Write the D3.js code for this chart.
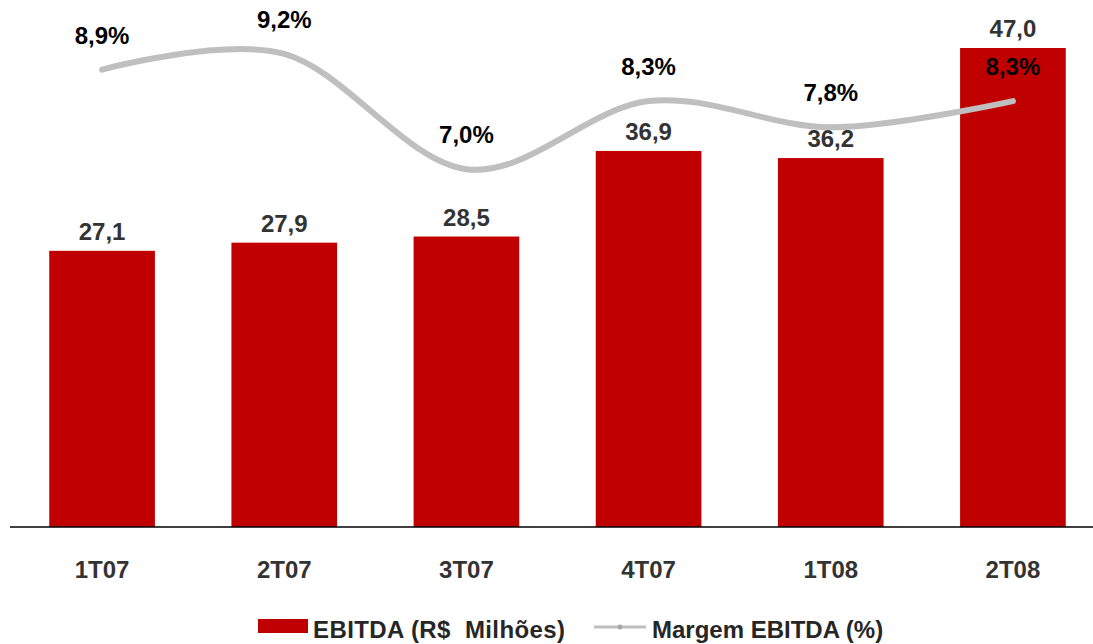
<!DOCTYPE html>
<html>
<head>
<meta charset="utf-8">
<script src="https://cdn.jsdelivr.net/npm/d3@7"></script>
<style>
    body { margin: 0; background: #fff; }
    svg text { font-family: "Liberation Sans", Arial, sans-serif; font-weight: bold; }
</style>
</head>
<body>
<svg id="chart" width="1093" height="644"></svg>
<script>
// chart data
const quarters = ["1T07", "2T07", "3T07", "4T07", "1T08", "2T08"];
const ebitda = [27.1, 27.9, 28.5, 36.9, 36.2, 47.0];
const margem = [8.9, 9.2, 7.0, 8.3, 7.8, 8.3];
const legendLabels = ["EBITDA (R$  Milhões)", "Margem EBITDA (%)"];

const barColor = "#C00000";
const lineColor = "#BFBFBF";
const fmt = (v, d) => v.toFixed(d).replace(".", ",");

const svg = d3.select("#chart");
const baseY = 527;

const xScale = d3.scaleBand()
    .domain(quarters)
    .range([11, 1104])
    .paddingInner(0.42)
    .paddingOuter(0.21);

const yBar = d3.scaleLinear()
    .domain([0, 47])
    .range([baseY, 48]);

const yLine = d3.scaleLinear()
    .domain([0, 10])
    .range([536, 12]);

const cx = q => xScale(q) + xScale.bandwidth() / 2;

// bars
svg.append("g")
    .selectAll("rect")
    .data(quarters)
    .join("rect")
    .attr("x", d => xScale(d))
    .attr("y", (d, i) => yBar(ebitda[i]))
    .attr("width", xScale.bandwidth())
    .attr("height", (d, i) => baseY - yBar(ebitda[i]))
    .attr("fill", barColor);

// bar labels
svg.append("g")
    .attr("text-anchor", "middle")
    .attr("font-size", 24)
    .attr("fill", "#333333")
    .selectAll("text")
    .data(quarters)
    .join("text")
    .attr("x", d => cx(d))
    .attr("y", (d, i) => yBar(ebitda[i]) - 11)
    .text((d, i) => fmt(ebitda[i], 1));

// x axis
const xAxis = svg.append("g")
    .attr("transform", `translate(0,${baseY})`)
    .call(d3.axisBottom(xScale).tickSize(0).tickPadding(0));

xAxis.select(".domain")
    .attr("d", "M10,0H1093")
    .attr("stroke", "#000")
    .attr("stroke-width", 1.5);

xAxis.selectAll(".tick text")
    .attr("y", 51)
    .attr("dy", null)
    .attr("font-size", 24)
    .attr("font-family", "Liberation Sans, Arial, sans-serif")
    .attr("font-weight", "bold")
    .attr("fill", "#333333");

// margin line
const line = d3.line()
    .x((d, i) => cx(quarters[i]))
    .y(d => yLine(d))
    .curve(d3.curveCardinal.tension(0));

svg.append("path")
    .datum(margem)
    .attr("d", line)
    .attr("fill", "none")
    .attr("stroke", lineColor)
    .attr("stroke-width", 6)
    .attr("stroke-linecap", "round");

// margin labels
svg.append("g")
    .attr("text-anchor", "middle")
    .attr("font-size", 24)
    .attr("fill", "#000")
    .selectAll("text")
    .data(margem)
    .join("text")
    .attr("x", (d, i) => cx(quarters[i]))
    .attr("y", d => yLine(d) - 26)
    .text(d => fmt(d, 1) + "%");

// legend
const legend = svg.append("g").attr("font-size", 24).attr("fill", "#262626");

legend.append("rect")
    .attr("x", 258).attr("y", 619)
    .attr("width", 50).attr("height", 14)
    .attr("fill", barColor);

legend.append("text")
    .attr("x", 313).attr("y", 638)
    .attr("xml:space", "preserve")
    .style("white-space", "pre")
    .attr("textLength", 252)
    .text(legendLabels[0]);

legend.append("line")
    .attr("x1", 594).attr("x2", 646)
    .attr("y1", 627).attr("y2", 627)
    .attr("stroke", lineColor)
    .attr("stroke-width", 3);

legend.append("circle")
    .attr("cx", 620).attr("cy", 627)
    .attr("r", 2.5)
    .attr("fill", "#a6a6a6");

legend.append("text")
    .attr("x", 652).attr("y", 638)
    .text(legendLabels[1]);
</script>
</body>
</html>
